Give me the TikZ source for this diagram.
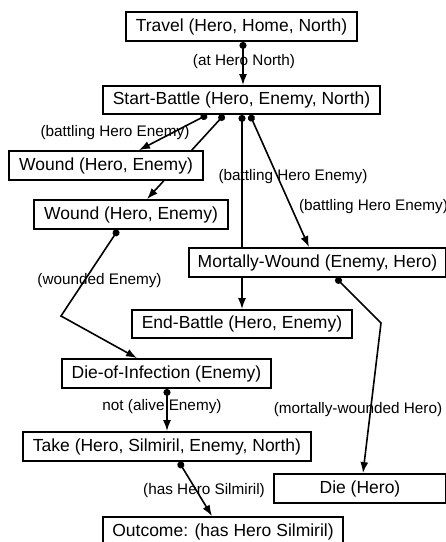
\documentclass[tikz,border=0pt]{standalone}
\usepackage{fontspec}
\setmainfont{Liberation Sans}
\usetikzlibrary{arrows.meta}
\pgfdeclarelayer{background}
\pgfsetlayers{background,main}
\tikzset{
  box/.style={draw=black, line width=1.8pt, fill=white, inner sep=0pt,
    minimum height=29pt, font=\fontsize{17.5pt}{20pt}\selectfont},
  lbl/.style={inner sep=0pt, font=\fontsize{15.3pt}{18pt}\selectfont},
  conn/.style={line width=1.6pt, {Circle[length=7pt]}-{Latex[length=11pt,width=8pt]}}
}
\begin{document}
\begin{tikzpicture}[x=1pt,y=-1pt]
\useasboundingbox (0,0) rectangle (446,542);
% boxes
\node[box, minimum width=231pt] (tr) at (241.5,26.5) {Travel (Hero, Home, North)};
\node[box, minimum width=277pt, minimum height=28pt] (sb) at (241.5,100) {Start-Battle (Hero, Enemy, North)};
\node[box, minimum width=194pt] (w1) at (106,165.5) {Wound (Hero, Enemy)};
\node[box, minimum width=194pt] (w2) at (131,214.5) {Wound (Hero, Enemy)};
\node[box, minimum width=257pt] (mw) at (317.5,262.5) {Mortally-Wound (Enemy, Hero)};
\node[box, minimum width=220pt, minimum height=28pt] (eb) at (242,324) {End-Battle (Hero, Enemy)};
\node[box, minimum width=209pt] (di) at (166.5,373.5) {Die-of-Infection (Enemy)};
\node[box, minimum width=288pt] (tk) at (167,446.5) {Take (Hero, Silmiril, Enemy, North)};
\node[box, minimum width=172pt] (dh) at (360,488.5) {Die (Hero)};
\node[box, minimum width=240pt] (oc) at (223,531.5) {Outcome: (has Hero Silmiril)};
% bend points
\coordinate (c1) at (61,316);
\coordinate (c2) at (381,323);
% connectors
\begin{pgfonlayer}{background}
\draw[conn] ([xshift=1.5pt]tr.south) -- ([xshift=1.5pt]sb.north);
\draw[conn] ([xshift=-34.5pt]sb.south) -- ([xshift=33pt]w1.north);
\draw[conn] ([xshift=-17.5pt]sb.south) -- ([xshift=16pt]w2.north);
\draw[conn] ([xshift=0.5pt]sb.south) -- (eb.north);
\draw[conn] ([xshift=8.5pt]sb.south) -- ([xshift=-8.5pt]mw.north);
\draw[conn] ([xshift=-13pt]w2.south) -- (c1) -- ([xshift=-29.5pt]di.north);
\draw[conn] ([xshift=18.5pt]mw.south) -- (c2) -- ([xshift=3pt]dh.north);
\draw[conn] ([xshift=0.5pt]di.south) -- (tk.north);
\draw[conn] ([xshift=12pt]tk.south) -- ([xshift=-11pt]oc.north);
\end{pgfonlayer}
% labels
\node[lbl] (l1) at (244,62) {(at Hero North)};
\node[lbl] (l2) at (115,133) {(battling Hero Enemy)};
\node[lbl] (l3) at (293,177) {(battling Hero Enemy)};
\node[lbl] (l4) at (373.5,207) {(battling Hero Enemy)};
\node[lbl] (l5) at (99.5,281) {(wounded Enemy)};
\node[lbl] (l6) at (358,410) {(mortally-wounded Hero)};
\node[lbl] (l7) at (162,407) {not (alive Enemy)};
\node[lbl] (l8) at (204,491) {(has Hero Silmiril)};
\end{tikzpicture}
\end{document}
